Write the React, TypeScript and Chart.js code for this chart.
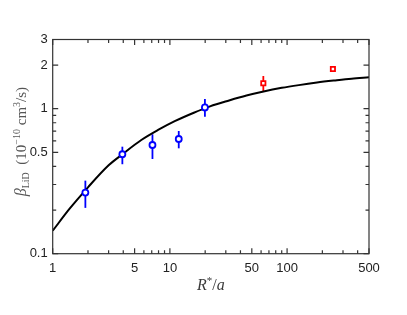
import React, { useEffect, useRef } from "react";
import { Chart, registerables } from "chart.js";
Chart.register(...registerables);

// ---- data ----
const blueX = [1.9, 3.93, 7.1, 11.9, 19.9];
const blueY = [0.264, 0.485, 0.562, 0.618, 1.02];
const blueLo = [0.207, 0.414, 0.45, 0.533, 0.88];
const blueHi = [0.319, 0.547, 0.666, 0.702, 1.166];

const redX = [62.7, 246];
const redY = [1.497, 1.88];
const redLo = [1.325, 1.86];
const redHi = [1.68, 1.9];

const curveX = [1, 1.4, 2, 3, 4, 5.7, 8, 11, 16, 22, 32, 45, 63, 90, 126, 180, 251, 355, 500];
const curveY = [0.144, 0.205, 0.287, 0.407, 0.49, 0.608, 0.716, 0.82, 0.938, 1.038, 1.14, 1.233, 1.315, 1.392, 1.454, 1.514, 1.563, 1.611, 1.645];

const xTickLabels = [1, 5, 10, 50, 100, 500];
const yTickLabels = [0.1, 0.5, 1, 2, 3];
const xMinorTicks = [1, 2, 3, 4, 5, 6, 7, 8, 9, 10, 20, 30, 40, 50, 60, 70, 80, 90, 100, 200, 300, 400, 500];
const yMinorTicks = [0.1, 0.2, 0.3, 0.4, 0.5, 0.6, 0.7, 0.8, 0.9, 1, 2, 3];

const SERIF = "'Liberation Serif', 'DejaVu Serif', serif";

type Seg = { t: string; font: string; dy?: number };

function drawRich(ctx: CanvasRenderingContext2D, segs: Seg[], cx: number, y: number) {
  let total = 0;
  for (const s of segs) {
    ctx.font = s.font;
    total += ctx.measureText(s.t).width;
  }
  let x = cx - total / 2;
  for (const s of segs) {
    ctx.font = s.font;
    ctx.fillText(s.t, x, y + (s.dy || 0));
    x += ctx.measureText(s.t).width;
  }
}

const customPlugin = {
  id: "customDecor",
  beforeDatasetsDraw(chart: any) {
    const ctx: CanvasRenderingContext2D = chart.ctx;
    const xs = chart.scales.x;
    const ys = chart.scales.y;
    ctx.save();
    ctx.lineWidth = 1.8;
    ctx.lineCap = "butt";
    ctx.strokeStyle = "#0000ff";
    blueX.forEach((v, i) => {
      const px = xs.getPixelForValue(v);
      ctx.beginPath();
      ctx.moveTo(px, ys.getPixelForValue(blueLo[i]));
      ctx.lineTo(px, ys.getPixelForValue(blueHi[i]));
      ctx.stroke();
    });
    ctx.strokeStyle = "#ff0000";
    redX.forEach((v, i) => {
      const px = xs.getPixelForValue(v);
      ctx.beginPath();
      ctx.moveTo(px, ys.getPixelForValue(redLo[i]));
      ctx.lineTo(px, ys.getPixelForValue(redHi[i]));
      ctx.stroke();
    });
    ctx.restore();
  },
  afterDraw(chart: any) {
    const ctx: CanvasRenderingContext2D = chart.ctx;
    const xs = chart.scales.x;
    const ys = chart.scales.y;
    const a = chart.chartArea;
    ctx.save();
    ctx.strokeStyle = "#333333";
    ctx.lineWidth = 1.2;
    ctx.strokeRect(a.left, a.top, a.right - a.left, a.bottom - a.top);
    ctx.beginPath();
    xMinorTicks.forEach((v) => {
      const px = xs.getPixelForValue(v);
      const len = xTickLabels.includes(v) ? 5.5 : 3.5;
      ctx.moveTo(px, a.bottom);
      ctx.lineTo(px, a.bottom - len);
      ctx.moveTo(px, a.top);
      ctx.lineTo(px, a.top + len);
    });
    yMinorTicks.forEach((v) => {
      const py = ys.getPixelForValue(v);
      const len = yTickLabels.includes(v) ? 5.5 : 3.5;
      ctx.moveTo(a.left, py);
      ctx.lineTo(a.left + len, py);
      ctx.moveTo(a.right, py);
      ctx.lineTo(a.right - len, py);
    });
    ctx.stroke();

    // axis titles
    ctx.textBaseline = "alphabetic";
    ctx.textAlign = "left";
    ctx.fillStyle = "#3a3a3a";
    drawRich(
      ctx,
      [
        { t: "R", font: `italic 16px ${SERIF}` },
        { t: "*", font: `11px ${SERIF}`, dy: -6 },
        { t: "/", font: `16px ${SERIF}` },
        { t: "a", font: `italic 16px ${SERIF}` },
      ],
      (a.left + a.right) / 2,
      290
    );
    ctx.fillStyle = "#555555";
    ctx.save();
    ctx.translate(26, (a.top + a.bottom) / 2 - 5);
    ctx.rotate(-Math.PI / 2);
    drawRich(
      ctx,
      [
        { t: "β", font: `italic 16px ${SERIF}` },
        { t: "LiD", font: `10px ${SERIF}`, dy: 3 },
        { t: "  (10", font: `15px ${SERIF}` },
        { t: "−10", font: `10px ${SERIF}`, dy: -6 },
        { t: " cm", font: `15px ${SERIF}` },
        { t: "3", font: `10px ${SERIF}`, dy: -6 },
        { t: "/s)", font: `15px ${SERIF}` },
      ],
      0,
      0
    );
    ctx.restore();
    ctx.restore();
  },
};

export default function App() {
  const ref = useRef<HTMLCanvasElement | null>(null);
  useEffect(() => {
    if (!ref.current) return;
    const tickFont = { family: "'Liberation Sans', Arial, sans-serif", size: 13 };
    const chart = new Chart(ref.current, {
      type: "scatter",
      data: {
        datasets: [
          {
            label: "curve",
            data: curveX.map((x, i) => ({ x, y: curveY[i] })),
            showLine: true,
            borderColor: "#000000",
            borderWidth: 2,
            pointRadius: 0,
            cubicInterpolationMode: "monotone",
            fill: false,
            order: 3,
          } as any,
          {
            label: "blue",
            data: blueX.map((x, i) => ({ x, y: blueY[i] })),
            pointStyle: "circle",
            pointRadius: 3,
            borderColor: "#0000ff",
            backgroundColor: "#ffffff",
            borderWidth: 1.8,
            order: 1,
          },
          {
            label: "red",
            data: redX.map((x, i) => ({ x, y: redY[i] })),
            pointStyle: "rect",
            pointRadius: 3,
            borderColor: "#ff0000",
            backgroundColor: "#ffffff",
            borderWidth: 1.8,
            order: 1,
          },
        ],
      },
      options: {
        animation: false,
        responsive: false,
        events: [],
        layout: { padding: { left: 0, right: 38, top: 39.5, bottom: 0 } },
        plugins: { legend: { display: false }, tooltip: { enabled: false } },
        scales: {
          x: {
            type: "logarithmic",
            min: 1,
            max: 500,
            grid: { display: false, drawTicks: false },
            border: { display: false },
            afterBuildTicks: (s: any) => {
              s.ticks = xTickLabels.map((v) => ({ value: v }));
            },
            afterFit: (s: any) => {
              s.height = 61.3;
            },
            ticks: {
              autoSkip: false,
              maxRotation: 0,
              padding: 7,
              color: "#222222",
              font: tickFont,
              callback: (v: any) => String(v),
            },
          },
          y: {
            type: "logarithmic",
            min: 0.1,
            max: 3,
            grid: { display: false, drawTicks: false },
            border: { display: false },
            afterBuildTicks: (s: any) => {
              s.ticks = yTickLabels.map((v) => ({ value: v }));
            },
            afterFit: (s: any) => {
              s.width = 52.7;
            },
            ticks: {
              autoSkip: false,
              padding: 5,
              color: "#222222",
              font: tickFont,
              callback: (v: any) => String(v),
            },
          },
        },
      } as any,
      plugins: [customPlugin],
    });
    return () => chart.destroy();
  }, []);
  return (
    <div style={{ position: "fixed", left: 0, top: 0, width: 407, height: 315, background: "#fff" }}>
      <canvas ref={ref} width={407} height={315} style={{ display: "block" }} />
    </div>
  );
}
